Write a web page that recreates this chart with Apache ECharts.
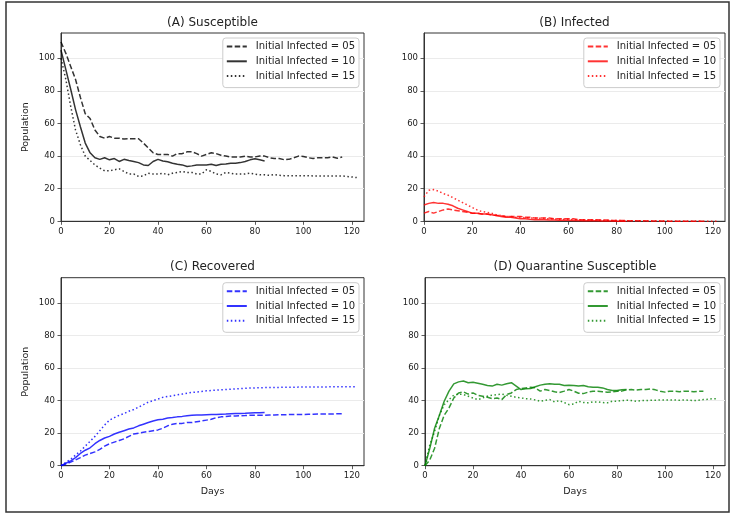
<!DOCTYPE html>
<html>
<head>
<meta charset="utf-8">
<script src="https://cdn.jsdelivr.net/npm/echarts@6/dist/echarts.min.js"></script>
<style>
html,body{margin:0;padding:0;background:#fff;}
#chart{width:731px;height:514px;}
</style>
</head>
<body>
<div id="chart"></div>
<script>
// ---- data ----
const days = [0,2,4,6,8,10,12,14,16,18,20,22,24,26,28,30,32,34,36,38,40,42,44,46,48,50,52,54,56,58,60,62,64,66,68,70,72,74,76,78,80,82,84,86,88,90,92,94,96,98,100,102,104,106,108,110,112,114,116,118,120,122];
const xTicks = [0,20,40,60,80,100,120];
const yTicks = [0,20,40,60,80,100];
const legendLabels = ['Initial Infected = 05','Initial Infected = 10','Initial Infected = 15'];
const panelTitles = ['(A) Susceptible','(B) Infected','(C) Recovered','(D) Quarantine Susceptible'];

// (A) Susceptible
const susc05 = [110,103,95,87,76,66,63,56,52,51,52,51,51,50.5,50.6,50.6,50.6,48,45,42,41,41,41,40,41.5,41.5,42.6,42.6,41.5,40,41,42,41.5,40.5,40,39.5,39.5,39.5,40,39.5,39.5,40,40,39,38.5,38.5,37.8,38,39,40,39.8,39,38.5,39,39,39,39.5,38.7,39.4];
const susc10 = [105,93,81,68.5,58,48,42,39,38,39,37.7,38.5,36.7,38,37.3,36.7,36,34.6,34.2,36.7,38,37,36.5,35.6,35,34.6,33.6,34,34.6,34.6,34.6,35,34.2,35,35.2,35.6,35.6,36,36.7,37.7,38.3,37.7,37];
const susc15 = [100,87,70.5,56,47,40,37.3,34.6,32.6,31,31,31.6,32.2,30.6,29,29,27.5,27.8,29.5,29,29,29.5,28.5,29.5,30,30.6,30,30,29,29,31.6,30.6,29,28.5,30,29.5,29,29,29,29.5,29,28.5,28.5,28.2,28.7,28.2,28,28,28,28,28,28,27.8,27.8,27.8,27.8,27.8,27.8,27.8,27.5,27.2,26.8];

// (B) Infected
const inf05 = [5,6,5,6,7,7.5,7,6.5,6,5.5,5,5,4.5,4.5,4,3.5,3.5,3,3,3,3,2.5,2.5,2,2,2,2,1.5,1.5,1.5,1.5,1.5,1,1,1,1,1,0.8,0.8,0.6,0.5,0.5,0.4,0.4,0.3,0.3,0.3,0.2,0.2,0.2,0.2,0.1,0.1,0.1,0.1,0.1,0,0,0];
const inf10 = [10,11,11.5,11,11,10.5,9.5,8,7,6,5,5,4.5,4.5,4,3.5,3,2.5,2.5,2,1.5,1.5,1.2,1,1,1,0.8,0.8,0.7,0.6,0.6,0.5,0.5,0.4,0.3,0.3,0.3,0.2,0.2,0.2,0.1,0.1,0];
const inf15 = [15,19,19.5,18.5,17,16,14.5,13,11.5,10,8.5,7,6,5.5,5,4,3.5,3,3,2.5,2.5,2.2,2,2,1.8,1.8,1.5,1.5,1.3,1.2,1.2,1,1,0.9,0.8,0.8,0.7,0.6,0.5,0.5,0.5,0.4,0.4,0.3,0.3,0.3,0.2,0.2,0.2,0.1,0.1,0.1,0.1,0.1,0,0,0,0,0,0,0,0];

// (C) Recovered
const rec05 = [0,1,2.2,3.5,5,6.5,7.5,8.5,10,12,13.5,14.5,15.5,16.5,18,19.5,20,20.5,21,21.5,22,23,24.5,25.5,26,26,26.5,26.5,27,27.5,28,28.5,29.5,30,30.2,30.5,30.6,30.7,30.8,31,31,31,31,31.1,31.2,31.3,31.3,31.4,31.4,31.5,31.5,31.6,31.6,31.7,31.7,31.8,31.8,31.9,32];
const rec10 = [0,1.5,3,5,7.5,9.5,11,13.5,15.5,17,18,19.5,20.5,21.5,22.5,23.2,24.5,25.5,26.5,27.5,28.2,28.6,29.3,29.6,30,30.3,30.7,31,31.1,31.2,31.3,31.4,31.5,31.6,31.7,31.9,32,32.1,32.2,32.4,32.5,32.6,32.7];
const rec15 = [0,2,4,6.5,9,12,15,18,21.5,25,28,29.5,31,32,33.5,34.5,36,37.5,39,40,41,42,42.5,43,43.5,44,44.5,45,45.3,45.6,46,46.2,46.4,46.6,46.8,47,47.2,47.4,47.6,47.7,47.8,47.9,48,48,48.1,48.1,48.2,48.2,48.2,48.3,48.3,48.3,48.4,48.4,48.4,48.4,48.5,48.5,48.5,48.5,48.5,48.5];

// (D) Quarantine Susceptible
const qs05 = [0,3.5,10.7,23,31,35.5,41.6,44.7,45.4,44,44.7,43.3,42.7,42,41.2,41.6,40.6,43.7,44.7,46.8,47.4,47.8,48.2,47.8,45.8,46.8,46.2,45.4,45,45.8,46.8,45.8,44.5,44.3,45.2,45.8,45.8,45.4,45.2,45.4,45.8,45.8,46.6,46.8,46.4,46.8,46.8,47.2,46.6,45.8,45.2,45.8,45.8,45.4,45.8,45.8,45.4,45.8,45.8];
const qs10 = [0,10.7,23,31,39.6,45.8,50.3,51.5,52,51,51.3,50.7,50,49.3,48.9,50,49.5,50.3,51,48.9,46.8,47.2,47.4,48.5,49.5,50,50.3,50,50,49.3,49.5,49.3,48.9,49.3,48.5,48.2,48.2,47.8,46.8,46.2,46.2,46.6,46.8];
const qs15 = [0,12.8,21,31,37.5,40.6,43.3,44,43.7,42.7,41.6,40.6,41.6,42.7,43.3,43.7,44,43.3,42.7,42,41.6,41.2,41,40.4,39.6,40.2,40.6,39.2,40,38.8,37.5,37.9,39.6,38.8,38.6,39.2,39.2,38.8,38.6,39.6,39.6,40,40.2,40,39.6,40,40,40.2,40.2,40.4,40.4,40.4,40.4,40.2,40.4,40.2,40,40.2,40.6,40.8,41.2,41.2];

// ---- layout ----
const FONT = 'DejaVu Sans';
const panels = [
  {left:61, top:33, width:303, height:188.3, color:'#000000', series:[susc05,susc10,susc15], yName:'Population', xName:''},
  {left:424, top:33, width:301, height:188.3, color:'#ff0000', series:[inf05,inf10,inf15], yName:'', xName:''},
  {left:61, top:277.7, width:303, height:188, color:'#0000ff', series:[rec05,rec10,rec15], yName:'Population', xName:'Days'},
  {left:425, top:277.7, width:300, height:188, color:'#008000', series:[qs05,qs10,qs15], yName:'', xName:'Days'}
];
const dashTypes = [[5.5,2.4],'solid',[1.5,2.5]];

const grid = [], xAxis = [], yAxis = [], series = [], legend = [], title = [];
panels.forEach((p, k) => {
  grid.push({left:p.left, top:p.top, width:p.width, height:p.height, show:true, borderColor:'#333', borderWidth:1, backgroundColor:'transparent', containLabel:false});
  xAxis.push({
    gridIndex:k, type:'value', min:0, max:125, interval:20,
    name:p.xName, nameLocation:'middle', nameGap:21,
    nameTextStyle:{fontSize:9.5, color:'#222', fontFamily:FONT},
    axisLine:{show:true, onZero:false, lineStyle:{color:'#333', width:1}},
    axisTick:{show:true, length:3.5, customValues:xTicks, lineStyle:{color:'#333', width:0.8}},
    axisLabel:{customValues:xTicks, fontSize:8.5, margin:6, color:'#222', fontFamily:FONT},
    splitLine:{show:false}
  });
  yAxis.push({
    gridIndex:k, type:'value', min:0, max:115.5, interval:20,
    name:p.yName, nameLocation:'middle', nameGap:30,
    nameTextStyle:{fontSize:9.5, color:'#222', fontFamily:FONT},
    axisLine:{show:true, lineStyle:{color:'#333', width:1}},
    axisTick:{show:true, length:3.5, customValues:yTicks, lineStyle:{color:'#333', width:0.8}},
    axisLabel:{customValues:yTicks, fontSize:8.5, margin:6, color:'#222', fontFamily:FONT},
    splitLine:{show:true, lineStyle:{color:'#ebebeb', width:1}}
  });
  const names = [];
  p.series.forEach((vals, j) => {
    const nm = 'p' + k + '_' + j;
    names.push(nm);
    series.push({
      name:nm, type:'line', xAxisIndex:k, yAxisIndex:k,
      data: vals.map((v, i) => [days[i], v]),
      showSymbol:false, symbol:'none', animation:false,
      lineStyle:{color:p.color, width:1.5, type:dashTypes[j], opacity:0.8},
      itemStyle:{color:p.color, opacity:0.8}
    });
  });
  legend.push({
    data:names, orient:'vertical',
    right: 731 - (p.left + p.width - 5), top: p.top + 5,
    itemWidth:20, itemHeight:14, itemGap:3.5,
    padding:[3,4,6,3],
    backgroundColor:'#fff', borderColor:'#cccccc', borderWidth:1, borderRadius:3,
    formatter: name => legendLabels[Number(name.split('_')[1])],
    itemStyle:{opacity:0},
    textStyle:{fontSize:10, color:'#222', fontFamily:FONT, padding:[0,0,0,4]},
    selectedMode:false
  });
  title.push({
    text:panelTitles[k], left:p.left + p.width/2, top:p.top - 17.5, textAlign:'center', padding:0,
    textStyle:{fontSize:12, fontWeight:'normal', color:'#222', fontFamily:FONT, lineHeight:14}
  });
});

const chart = echarts.init(document.getElementById('chart'), null, {renderer:'canvas'});
chart.setOption({
  animation:false,
  backgroundColor:'#fff',
  textStyle:{fontFamily:FONT},
  title, grid, xAxis, yAxis, legend, series,
  graphic:[{type:'rect', shape:{x:6, y:2, width:723, height:510}, style:{fill:'none', stroke:'#333', lineWidth:1.5}, silent:true, z:100}]
});
</script>
</body>
</html>
